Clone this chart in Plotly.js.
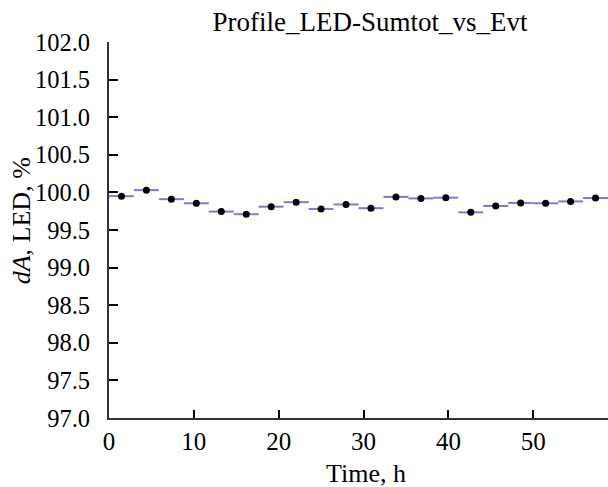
<!DOCTYPE html>
<html>
<head>
<meta charset="utf-8">
<script src="https://cdn.plot.ly/plotly-3.0.1.min.js"></script>
<style>html,body{margin:0;padding:0;background:#fff}#chart{width:608px;height:487px}</style>
</head>
<body>
<div id="chart"></div>
<script>
// Time bin centres (h) and half-widths
const timeCenters = [1.47, 4.41, 7.35, 10.29, 13.23, 16.17, 19.11, 22.05, 24.99, 27.93,
                     30.87, 33.81, 36.75, 39.69, 42.63, 45.57, 48.51, 51.45, 54.39, 57.33];
const binHalfWidth = [1.47, 1.47, 1.47, 1.47, 1.47, 1.47, 1.47, 1.47, 1.47, 1.47,
                      1.47, 1.47, 1.47, 1.47, 1.47, 1.47, 1.47, 1.47, 1.47, 1.47];
// dA, LED, %
const dA = [99.95, 100.03, 99.91, 99.855, 99.745, 99.71, 99.81, 99.87, 99.78, 99.84,
            99.79, 99.94, 99.92, 99.93, 99.735, 99.82, 99.86, 99.855, 99.88, 99.925];
const yTickVals = [97.0, 97.5, 98.0, 98.5, 99.0, 99.5, 100.0, 100.5, 101.0, 101.5, 102.0];
const xTickVals = [0, 10, 20, 30, 40, 50];

const font = 'Liberation Serif';

const trace = {
  x: timeCenters, y: dA, type: 'scatter', mode: 'markers',
  marker: {color: '#000', size: 7},
  error_x: {type: 'data', array: binHalfWidth, visible: true, color: '#8575d8', thickness: 2, width: 0},
  hoverinfo: 'x+y'
};

const layout = {
  width: 608, height: 487,
  margin: {l: 109, r: 0, t: 42, b: 69},
  paper_bgcolor: '#fff', plot_bgcolor: '#fff',
  showlegend: false,
  font: {family: font, size: 25, color: '#000'},
  title: {text: 'Profile_LED-Sumtot_vs_Evt', x: (370 - 109) / 499, xanchor: 'center', xref: 'paper',
          y: 1 - 22 / 487, yanchor: 'middle',
          font: {family: font, size: 27, color: '#000'}},
  xaxis: {
    range: [0, 58.8], tickvals: xTickVals, ticktext: xTickVals.map(String),
    ticks: 'inside', ticklen: 8, tickwidth: 2, tickcolor: '#000',
    showline: true, linecolor: '#333', linewidth: 2, mirror: false,
    showgrid: false, zeroline: false, ticklabelstandoff: 0,
    tickfont: {family: font, size: 25, color: '#000'}
  },
  yaxis: {
    range: [97, 102], tickvals: yTickVals, ticktext: yTickVals.map(v => v.toFixed(1)),
    ticks: 'inside', ticklen: 9, tickwidth: 2, tickcolor: '#000',
    showline: true, linecolor: '#333', linewidth: 2, mirror: false,
    showgrid: false, zeroline: false, ticklabelstandoff: 12,
    tickfont: {family: font, size: 24.5, color: '#000'}
  },
  annotations: [
    {text: '<i>dA</i>, LED, %', xref: 'paper', yref: 'paper', x: (21 - 109) / 499, y: (417.7 - 221) / 376,
     xanchor: 'center', yanchor: 'middle', textangle: -90, showarrow: false,
     font: {family: font, size: 26, color: '#000'}},
    {text: 'Time, h', xref: 'paper', yref: 'paper', x: (365.5 - 109) / 499, y: (417.7 - 473) / 376,
     xanchor: 'center', yanchor: 'middle', showarrow: false,
     font: {family: font, size: 26, color: '#000'}}
  ]
};

Plotly.newPlot('chart', [trace], layout, {displayModeBar: false, staticPlot: true});
</script>
</body>
</html>
